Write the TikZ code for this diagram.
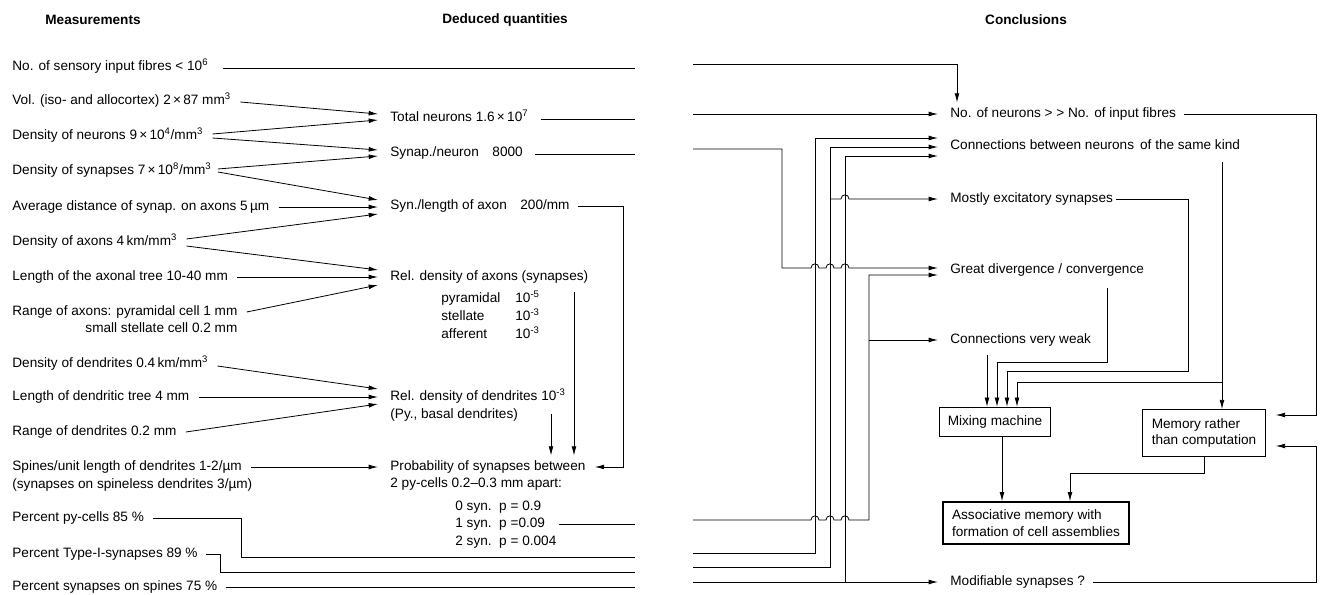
\documentclass[tikz,border=0pt]{standalone}
\usepackage{fontspec}
\setmainfont{Liberation Sans}
\usetikzlibrary{arrows.meta,calc}

\begin{document}
\begin{tikzpicture}[
    x=0.75pt, y=-0.75pt,
    line width=0.6pt,
    font=\fontsize{10.2}{12.5}\selectfont,
    % text labels: the west anchor sits in the middle of the x-height
    lbl/.style={anchor=west, inner sep=0pt, text height=7pt, text depth=2pt},
    head/.style={inner sep=0pt, font=\fontsize{10.2}{12.5}\selectfont\bfseries},
    % boxes of the conclusions
    box/.style={draw, line width=0.7pt, align=left, inner xsep=6pt, inner ysep=4pt},
    arr/.style={-{Latex[length=7pt,width=3.6pt]}},
    % small bridge where a line jumps over another one
    jump/.style={insert path={.. controls +(0,-5.5) and +(0,-5.5) .. ++(8,0)}}
]
\useasboundingbox (0,0) rectangle (1325,595);

    % --- Column heads ---
    \node[head] (hmeas) at (93,20)   {Measurements};
    \node[head] (hded)  at (505,20)  {Deduced quantities};
    \node[head] (hcon)  at (1026,20) {Conclusions};

    % --- Measurements ---
    \node[lbl] (m1)  at (12,67)  {No. of sensory input fibres < 10\textsuperscript{6}};
    \node[lbl] (m2)  at (12,101) {Vol. (iso- and allocortex) 2\,×\,87 mm\textsuperscript{3}};
    \node[lbl] (m3)  at (12,136) {Density of neurons 9\,×\,10\textsuperscript{4}/mm\textsuperscript{3}};
    \node[lbl] (m4)  at (12,171) {Density of synapses 7\,×\,10\textsuperscript{8}/mm\textsuperscript{3}};
    \node[lbl] (m5)  at (12,207) {Average distance of synap. on axons 5\,µm};
    \node[lbl] (m6)  at (12,242) {Density of axons 4\,km/mm\textsuperscript{3}};
    \node[lbl] (m7)  at (12,277) {Length of the axonal tree 10-40 mm};
    \node[lbl] (m8)  at (12,312) {Range of axons: pyramidal cell 1 mm};
    \node[lbl, anchor=east] (m8b) at ($(m8.east)+(0,17)$) {small stellate cell 0.2 mm};
    \node[lbl] (m9)  at (12,364) {Density of dendrites 0.4\,km/mm\textsuperscript{3}};
    \node[lbl] (m10) at (12,397) {Length of dendritic tree 4 mm};
    \node[lbl] (m11) at (12,432) {Range of dendrites 0.2 mm};
    \node[lbl] (m12) at (12,467) {Spines/unit length of dendrites 1-2/µm};
    \node[lbl] (m12b) at (12,485) {(synapses on spineless dendrites 3/µm)};
    \node[lbl] (m13) at (12,518) {Percent py-cells 85 \%};
    \node[lbl] (m14) at (12,554) {Percent Type-I-synapses 89 \%};
    \node[lbl] (m15) at (12,587) {Percent synapses on spines 75 \%};

    % --- Deduced quantities ---
    \node[lbl] (d1) at (390,118) {Total neurons 1.6\,×\,10\textsuperscript{7}};
    \node[lbl] (d2) at (390,153) {Synap./neuron\quad 8000};
    \node[lbl] (d3) at (390,206) {Syn./length of axon\quad 200/mm};
    \node[lbl] (d4) at (390,277) {Rel. density of axons (synapses)};
    \node[lbl] (pyr)   at (441,299) {pyramidal};
    \node[lbl] (pyrv)  at (515,299) {10\textsuperscript{-5}};
    \node[lbl] (stel)  at (441,317) {stellate};
    \node[lbl] (stelv) at (515,317) {10\textsuperscript{-3}};
    \node[lbl] (aff)   at (441,335) {afferent};
    \node[lbl] (affv)  at (515,335) {10\textsuperscript{-3}};
    \node[lbl] (d5)  at (390,397) {Rel. density of dendrites 10\textsuperscript{-3}};
    \node[lbl] (d5b) at (390,415) {(Py., basal dendrites)};
    \node[lbl] (d6)  at (390,467) {Probability of synapses between};
    \node[lbl] (d6b) at (390,484) {2 py-cells 0.2–0.3 mm apart:};
    \node[lbl] (p0) at (455,507) {0 syn.\ \ p = 0.9};
    \node[lbl] (p1) at (455,524) {1 syn.\ \ p =0.09};
    \node[lbl] (p2) at (455,542) {2 syn.\ \ p = 0.004};

    % --- Conclusions ---
    \node[lbl] (c1) at (950,114) {No. of neurons > > No. of input fibres};
    \node[lbl] (c2) at (950,146) {Connections between neurons\, of the same kind};
    \node[lbl] (c3) at (950,199) {Mostly excitatory synapses};
    \node[lbl] (c4) at (950,270) {Great divergence / convergence};
    \node[lbl] (c5) at (950,340) {Connections very weak};
    \node[lbl] (c6) at (950,582) {Modifiable synapses ?};
    \node[box, minimum width=76pt, minimum height=22pt] (mix) at (995,422) {Mixing machine};
    \node[box, minimum width=92pt, minimum height=35pt] (mem) at (1204,433) {Memory rather\\than computation};
    \node[box, line width=1.5pt, minimum width=140pt, minimum height=31pt] (assoc) at (1036,523)
        {Associative memory with\\formation of cell assemblies};

    % --- Free ends at the fold and rails ---
    \coordinate (gapL) at (635,0);
    \coordinate (rail) at (623,0);
    \coordinate (rim)  at (1316,0);
    \coordinate (pyL) at (635,557);
    \coordinate (tyL) at (635,572);
    \coordinate (spL) at (635,587);
    \coordinate (r1) at (693,64);
    \coordinate (r2) at (693,114);
    \coordinate (r3) at (693,149);
    \coordinate (r4) at (693,520);
    \coordinate (r5) at (693,553);
    \coordinate (r6) at (693,567);
    \coordinate (r7) at (693,582);
    \coordinate (axv) at (574,292);
    \coordinate (dev) at (551,414);

    % --- Measurements -> deduced quantities ---
    \draw[arr] ($(m2.east)+(9,1)$)   -- ($(d1.west)+(-12,-4)$);
    \draw[arr] ($(m3.east)+(9,-2)$)  -- ($(d1.west)+(-12,2)$);
    \draw[arr] ($(m3.east)+(9,2)$)   -- ($(d2.west)+(-12,-3)$);
    \draw[arr] ($(m4.east)+(6,-2)$)  -- ($(d2.west)+(-12,3)$);
    \draw[arr] ($(m4.east)+(6,1)$)   -- ($(d3.west)+(-12,-6)$);
    \draw[arr] ($(m5.east)+(9,0)$)   -- ($(d3.west)+(-12,1)$);
    \draw[arr] ($(m6.east)+(9,-3)$)  -- ($(d3.west)+(-12,8)$);
    \draw[arr] ($(m6.east)+(9,4)$)   -- ($(d4.west)+(-12,-7)$);
    \draw[arr] ($(m7.east)+(9,0)$)   -- ($(d4.west)+(-12,0)$);
    \draw[arr] ($(m8.east)+(9,0)$)   -- ($(d4.west)+(-12,8)$);
    \draw[arr] ($(m9.east)+(9,2)$)   -- ($(d5.west)+(-12,-8)$);
    \draw[arr] ($(m10.east)+(9,0)$)  -- ($(d5.west)+(-12,0)$);
    \draw[arr] ($(m11.east)+(9,0)$)  -- ($(d5.west)+(-12,7)$);
    \draw[arr] ($(m12.east)+(9,0)$)  -- ($(d6.west)+(-12,0)$);

    % --- Deduced quantities -> probability ---
    \draw[arr] ($(d3.east)+(8,0)$) -- (rail |- d3.east) |- ($(d6.east)+(9,0)$);
    \draw[arr] (axv) -- ($(axv |- d6.north)+(0,-5)$);
    \draw[arr] (dev) -- ($(dev |- d6.north)+(0,-5)$);

    % --- Lines running to the fold ---
    \draw ($(m1.east)+(14,1)$) -- ($(m1.east -| gapL)+(0,1)$);
    \draw ($(d1.east)+(12,1)$) -- ($(d1.east -| gapL)+(0,1)$);
    \draw ($(d2.east)+(12,1)$) -- ($(d2.east -| gapL)+(0,1)$);
    \draw ($(p1.east)+(14,0)$) -- (p1.east -| gapL);
    \draw ($(m13.east)+(9,0)$) -- ++(88,0) |- (pyL);
    \draw ($(m14.east)+(8,0)$) -- ++(14,0) |- (tyL);
    \draw ($(m15.east)+(8,0)$) -- (spL);

    % --- Right half: into the conclusions ---
    \draw[arr] (r1) -| ($(c1.north west)+(7,-5)$);
    \draw[arr] (r2) -- ($(c1.west)+(-12,0)$);
    \draw[arr] (r3) -- (782,149) -- (782,268) -- (811,268) [jump] -- (826,268) [jump]
        -- (841,268) [jump] -- ($(c4.west)+(-12,-2)$);
    \draw[arr] (r4) -- (811,520) [jump] -- (826,520) [jump] -- (841,520) [jump]
        -- (869,520) -- (869,275) -- ($(c4.west)+(-12,5)$);
    \draw[arr] (869,340) -- ($(c5.west)+(-12,0)$);
    \draw[arr] (r5) -| (815,138) -- ($(c2.west)+(-12,-8)$);
    \draw[arr] (r6) -| (830,147) -- ($(c2.west)+(-12,1)$);
    \draw[arr] (830,199) -- (841,199) [jump] -- ($(c3.west)+(-12,0)$);
    \draw[arr] (r7) -| (845,156) -- ($(c2.west)+(-12,10)$);
    \draw[arr] (845,582) -- ($(c6.west)+(-12,0)$);

    % --- Conclusions -> boxes ---
    \draw[arr] ($(c1.east)+(8,0)$) -- (rim |- c1.east) |- ($(mem.east)+(10,-18)$);
    \draw[arr] ($(c6.east)+(8,0)$) -- (rim |- c6.east) |- ($(mem.east)+(10,13)$);
    \draw[arr] ($(c2.south -| mem.north)+(18,10)$) -- ($(mem.north)+(18,0)$);
    \draw[arr] ($(mem.north)+(18,-27)$) -| ($(mix.north)+(22,0)$);
    \draw[arr] ($(c3.east)+(3,0)$) -- ($(c3.east -| mem.north)+(-16,0)$)
        |- ($(mix.north)+(12,-35)$) -- ($(mix.north)+(12,0)$);
    \draw[arr] ($(c4.south -| mix.north)+(112,12)$) |- ($(mix.north)+(2,-44)$) -- ($(mix.north)+(2,0)$);
    \draw[arr] ($(c5.south -| mix.north)+(-8,9)$) -- ($(mix.north)+(-8,0)$);
    \draw[arr] ($(mix.south)+(7,0)$) -- ($(assoc.north -| mix.south)+(7,0)$);
    \draw[arr] (mem.south) -- ++(0,17) -| ($(assoc.north)+(34,0)$);

\end{tikzpicture}
\end{document}
